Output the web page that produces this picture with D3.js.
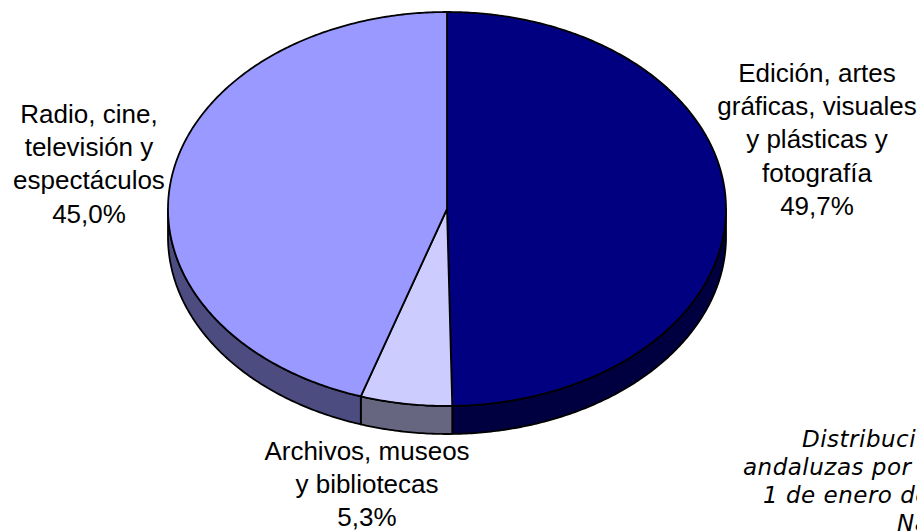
<!DOCTYPE html>
<html>
<head>
<meta charset="utf-8">
<script src="https://cdn.jsdelivr.net/npm/d3@7"></script>
<style>
  body { margin: 0; background: #fff; overflow: hidden; }
  .label { font-family: "Liberation Sans", Arial, sans-serif; font-size: 26px; fill: #000; }
  .note { font-family: "DejaVu Sans", Verdana, sans-serif; font-style: italic; font-size: 23px; letter-spacing: 0.5px; fill: #000; }
</style>
</head>
<body>
<div class="chart"></div>
<script>
// data
var categories = ["Edición, artes gráficas, visuales y plásticas y fotografía",
                  "Archivos, museos y bibliotecas",
                  "Radio, cine, televisión y espectáculos"];
var values = [49.7, 5.3, 45.0];
var labelLines = [
  ["Edición, artes", "gráficas, visuales", "y plásticas y", "fotografía", "49,7%"],
  ["Archivos, museos", "y bibliotecas", "5,3%"],
  ["Radio, cine,", "televisión y", "espectáculos", "45,0%"]
];
var noteLines = ["Distribución de las empresas culturales",
                 "andaluzas por actividad económica a",
                 "1 de enero de 2007.",
                 "Nacional"];

// setup
var w = 917, h = 531;
var cx = 447, cy = 209, rx = 279, ry = 197, depth = 28;
var topColor = ["#000080", "#ccccff", "#9999ff"];
var sideColor = ["#000040", "#666680", "#4c4c80"];

var svg = d3.select(".chart")
    .append("svg")
    .attr("width", w)
    .attr("height", h);

var pie = d3.pie().sort(null).value(function(d) { return d; });
var arcs = pie(values);

// point on the ellipse, angle clockwise from 12 o'clock
function pt(a, dy) {
  return [cx + rx * Math.sin(a), cy - ry * Math.cos(a) + (dy || 0)];
}
function arcPoints(a0, a1, dy) {
  var n = Math.max(2, Math.ceil((a1 - a0) / 0.01));
  return d3.range(n + 1).map(function(i) { return pt(a0 + (a1 - a0) * i / n, dy); });
}
var line = d3.line();

// side walls (only the front half is visible)
arcs.forEach(function(d, i) {
  var a0 = Math.max(d.startAngle, Math.PI / 2),
      a1 = Math.min(d.endAngle, Math.PI * 1.5);
  if (a1 <= a0) return;
  var pts = arcPoints(a0, a1, 0).concat(arcPoints(a0, a1, depth).reverse());
  svg.append("path")
    .attr("d", line(pts) + "Z")
    .style("fill", sideColor[i])
    .style("stroke", "#000")
    .style("stroke-width", 1.8)
    .style("stroke-linejoin", "round");
});

// top face
arcs.forEach(function(d, i) {
  var pts = [[cx, cy]].concat(arcPoints(d.startAngle, d.endAngle, 0));
  svg.append("path")
    .attr("d", line(pts) + "Z")
    .style("fill", topColor[i])
    .style("stroke", "#000")
    .style("stroke-width", 1.8)
    .style("stroke-linejoin", "round");
});

// labels
var labelPos = [[817, 82], [367, 460], [89, 123]];
var lh = 33.2;
labelLines.forEach(function(lines, i) {
  var t = svg.append("text")
    .attr("class", "label")
    .attr("text-anchor", "middle");
  lines.forEach(function(s, j) {
    t.append("tspan")
      .attr("x", labelPos[i][0])
      .attr("y", labelPos[i][1] + j * lh)
      .text(s);
  });
});

// note in the lower right (runs off the edge as in the original)
var noteX = [802, 743, 763, 897];
noteLines.forEach(function(s, j) {
  svg.append("text")
    .attr("class", "note")
    .attr("x", noteX[j])
    .attr("y", 447 + j * 28)
    .text(s);
});
</script>
</body>
</html>
